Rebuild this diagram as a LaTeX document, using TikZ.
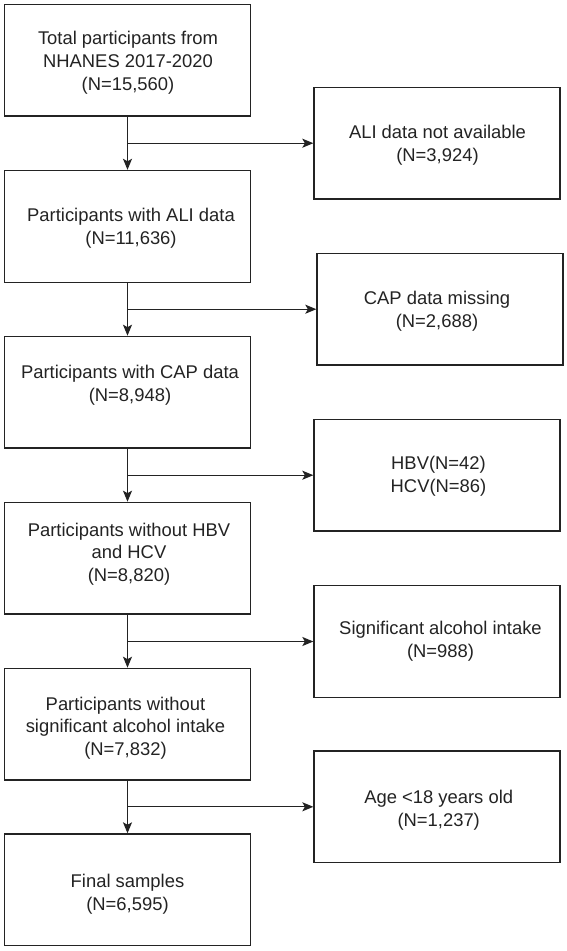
\documentclass[tikz,border=0pt]{standalone}
\usepackage{fontspec}
\setmainfont{Liberation Sans}
\usetikzlibrary{arrows.meta}
\definecolor{ink}{HTML}{232323}
\begin{document}
\begin{tikzpicture}[x=1pt,y=1pt,
  box/.style={draw=ink, line width=1.3pt, rectangle, minimum width=246pt, minimum height=111.7pt, inner sep=0pt},
  txt/.style={text=ink, align=center, inner sep=0pt, font=\fontsize{18.4pt}{22.6pt}\selectfont},
  arr/.style={draw=ink, line width=1.3pt, -{Stealth[length=11pt,width=9pt,inset=2.5pt]}},
  ln/.style={draw=ink, line width=1.3pt}]
\useasboundingbox[fill=white] (0,0) rectangle (567,-951);
% left column
\node[box] (b1) at (127.5,-60.2) {};
\node[box] (b2) at (127.5,-226.3) {};
\node[box] (b3) at (127.5,-392.2) {};
\node[box] (b4) at (127.5,-558.2) {};
\node[box] (b5) at (127.5,-724.2) {};
\node[box] (b6) at (127.5,-889.8) {};
% right column
\node[box] (r1) at (437,-143.2) {};
\node[box] (r2) at (440,-309.2) {};
\node[box] (r3) at (437,-475.2) {};
\node[box] (r4) at (437,-641.5) {};
\node[box] (r5) at (437,-806.8) {};
% texts
\node[txt] (t1) at (128,-62.7) {Total participants from\\NHANES 2017-2020\\(N=15,560)};
\node[txt] (t2) at (131,-228.5) {Participants with ALI data\\(N=11,636)};
\node[txt] (t3) at (130,-385) {Participants with CAP data\\(N=8,948)};
\node[txt] (t4) at (129,-554) {Participants without HBV\\and HCV\\(N=8,820)};
\node[txt] (t5) at (125.5,-728.2) {Participants without\\significant alcohol intake\\(N=7,832)};
\node[txt] (t6) at (127.5,-894.5) {Final samples\\(N=6,595)};
\node[txt] (s1) at (437.5,-145.3) {ALI data not available\\(N=3,924)};
\node[txt] (s2) at (437,-311.5) {CAP data missing\\(N=2,688)};
\node[txt] (s3) at (438.5,-476.5) {HBV(N=42)\\HCV(N=86)};
\node[txt] (s4) at (440.5,-641.5) {Significant alcohol intake\\(N=988)};
\node[txt] (s5) at (438.7,-810) {Age <18 years old\\(N=1,237)};
% connectors
\foreach \a/\b in {b1/b2,b2/b3,b3/b4,b4/b5,b5/b6}
  \draw[arr] (\a.south) -- (\b.north);
\foreach \a/\r in {b1/r1,b2/r2,b3/r3,b4/r4,b5/r5}
  \draw[arr] (\a.south |- \r.west) -- (\r.west);
\end{tikzpicture}
\end{document}
